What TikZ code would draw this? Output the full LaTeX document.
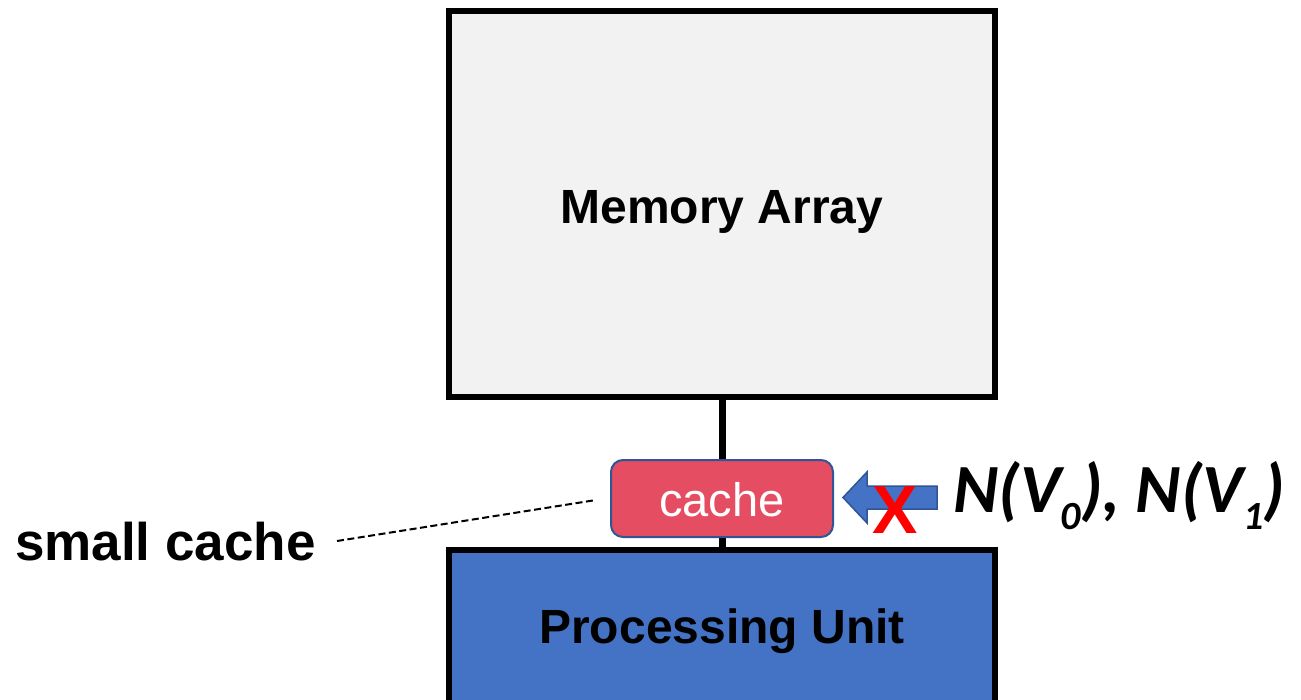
\documentclass[tikz,border=0pt]{standalone}
\usepackage{fontspec}
\setmainfont{Liberation Sans}
\newfontfamily\calfont{Carlito}
\definecolor{memfill}{HTML}{F2F2F2}
\definecolor{pufill}{HTML}{4472C4}
\definecolor{cachefill}{HTML}{E54E62}
\definecolor{edgeblue}{HTML}{2F5597}
\definecolor{crossred}{HTML}{FF0000}
\tikzset{
  block/.style={draw=black, line width=6pt},
  label48/.style={font=\fontsize{48}{56}\selectfont\bfseries, inner sep=0pt},
}
\begin{document}
\begin{tikzpicture}[x=1pt, y=-1pt]
  \clip (0,0) rectangle (1301,699);
  \useasboundingbox (0,0) rectangle (1301,699);

  % bus between the memory and the processing unit
  \coordinate (busTop) at (722,397);
  \coordinate (busBot) at (722,550);
  \draw[line width=7pt] (busTop) -- (busBot);

  % memory array
  \draw[block, fill=memfill] (448.5,11) rectangle (995,397);
  \node[label48, anchor=base] (mem) at (722,223) {Memory Array};

  % processing unit (runs past the lower edge)
  \draw[block, fill=pufill] (448.5,550) rectangle (995,730);
  \node[label48, anchor=base] (pu) at (722,643) {Processing Unit};

  % cache block
  \node[draw=edgeblue, line width=2pt, fill=cachefill, rounded corners=12pt,
        minimum width=222pt, minimum height=77pt, inner sep=0pt] (cache) at (722,498.5) {};
  \node[text=white, font=\fontsize{47}{52}\selectfont, inner sep=0pt, anchor=base]
        (cachetxt) at (722,516) {cache};

  % blocked incoming request arrow
  \draw[draw=edgeblue, line width=1.5pt, fill=pufill, line join=miter]
    (843,497.5) -- (867,472) -- (867,486) -- (937,486) -- (937,509)
    -- (867,509) -- (867,523) -- cycle;
  \node[text=crossred, font=\fontsize{68}{80}\selectfont\bfseries, inner sep=0pt, anchor=base]
        (cross) at (895,533) {X};

  % incoming neighbour lists
  \node[font=\calfont\fontsize{69}{74}\selectfont\bfseries\itshape, inner sep=0pt,
        anchor=base west] (nlist) at (953,512)
        {N(V\raisebox{-17pt}{\fontsize{40}{40}\selectfont 0}), N(V\raisebox{-17pt}{\fontsize{40}{40}\selectfont 1})};

  % side label with dashed leader
  \node[font=\fontsize{53}{60}\selectfont\bfseries, inner sep=0pt, anchor=base west]
        (small) at (15,560) {small cache};
  \coordinate (leadStart) at (337,541);
  \coordinate (leadEnd) at (596,500);
  \draw[line width=2pt, dash pattern=on 7pt off 3.5pt] (leadStart) -- (leadEnd);
\end{tikzpicture}
\end{document}
